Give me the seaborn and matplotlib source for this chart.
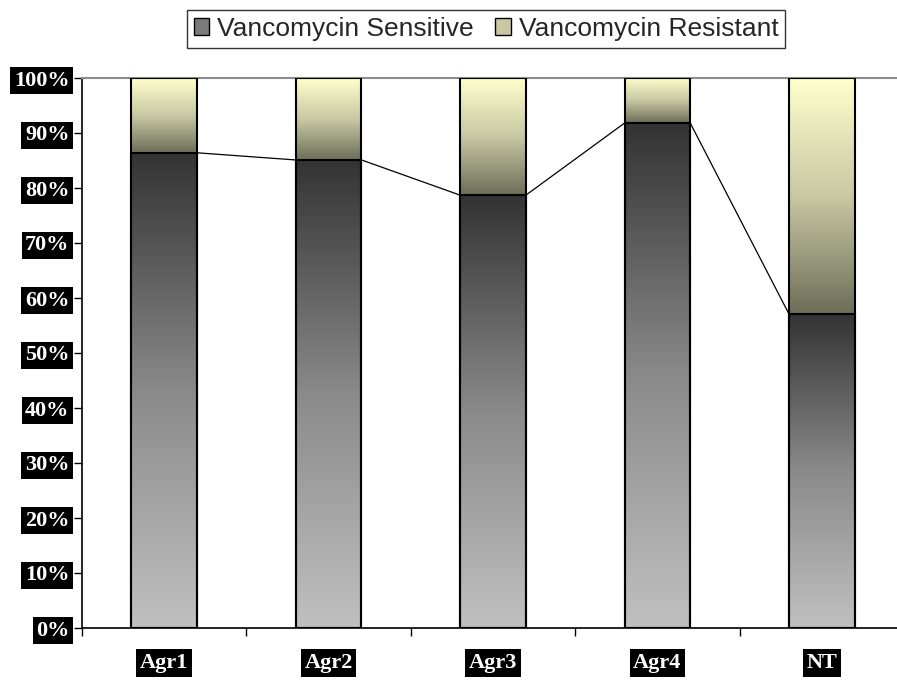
import matplotlib
matplotlib.use("Agg")
import matplotlib.pyplot as plt
from matplotlib.colors import LinearSegmentedColormap
from matplotlib.patches import Patch
import numpy as np
import pandas as pd
import seaborn as sns

groups = ["Agr1", "Agr2", "Agr3", "Agr4", "NT"]
sensitive = [86.4, 85.1, 78.7, 91.8, 57.1]
resistant = [13.6, 14.9, 21.3, 8.2, 42.9]

df = pd.DataFrame({"group": groups, "sens": sensitive,
                   "total": [s + r for s, r in zip(sensitive, resistant)]})

sns.set_style("white")
fig = plt.figure(figsize=(8.97, 6.86), dpi=100)
# plot area runs a few pixels past the right edge, as in the original
ax = fig.add_axes([82 / 897, 58 / 686, 822 / 897, 550 / 686])

bw = 0.4
sns.barplot(data=df, x="group", y="total", ax=ax, width=bw, color="white",
            edgecolor="black", linewidth=1.5)
sns.barplot(data=df, x="group", y="sens", ax=ax, width=bw, color="white",
            edgecolor="black", linewidth=1.5)

sens_cmap = LinearSegmentedColormap.from_list("s", ["#c0c0c0", "#8a8a8a", "#333333"])
res_cmap = LinearSegmentedColormap.from_list("r", ["#6e6e58", "#c8c8a4", "#ffffcc"])
grad = np.linspace(0, 1, 256).reshape(-1, 1)

n = len(groups)
total_patches = ax.patches[:n]
sens_patches = ax.patches[n:2 * n]
for i, (tp, sp) in enumerate(zip(total_patches, sens_patches)):
    x0 = tp.get_x()
    x1 = x0 + tp.get_width()
    im = ax.imshow(grad, extent=[x0, x1, sensitive[i], df["total"][i]], origin="lower",
                   aspect="auto", cmap=res_cmap, zorder=1)
    im.set_clip_path(tp)
    im2 = ax.imshow(grad, extent=[x0, x1, 0, sensitive[i]], origin="lower",
                    aspect="auto", cmap=sens_cmap, zorder=2)
    im2.set_clip_path(sp)
    tp.set_facecolor("none")
    sp.set_facecolor("none")
    tp.set_zorder(3)
    sp.set_zorder(4)

# series lines between bar tops
for i in range(n - 1):
    ax.plot([i + bw / 2, i + 1 - bw / 2], [sensitive[i], sensitive[i + 1]],
            color="black", lw=0.9, zorder=5)

ax.set_xlim(-0.5, 4.5)
ax.set_ylim(0, 100)
ax.set_xlabel("")
ax.set_ylabel("")

ax.set_yticks(np.arange(0, 101, 10))
ax.set_yticklabels([f"{v}%" for v in range(0, 101, 10)])
ax.set_xticks(range(n))
ax.set_xticklabels(groups)
ax.set_xticks(np.arange(-0.5, n, 1), minor=True)
ax.tick_params(axis="x", which="major", length=0, pad=18, bottom=False)
ax.tick_params(axis="x", which="minor", length=6, width=1, direction="out",
               color="black", bottom=True)
ax.tick_params(axis="y", length=6, width=1, direction="out", color="black", pad=3, left=True)

for lab in ax.get_xticklabels() + ax.get_yticklabels():
    lab.set_fontfamily(["Liberation Serif", "DejaVu Serif"])
    lab.set_fontweight("bold")
    lab.set_fontsize(16)
    lab.set_color("white")
    lab.set_bbox(dict(facecolor="black", edgecolor="none", pad=2.5))

for s in ["left", "bottom"]:
    ax.spines[s].set_color("black")
    ax.spines[s].set_linewidth(1.2)
ax.spines["top"].set_color("#8c8c8c")
ax.spines["top"].set_linewidth(1.5)
ax.spines["right"].set_visible(False)

handles = [Patch(facecolor="#7a7a7a", edgecolor="black", label="Vancomycin Sensitive"),
           Patch(facecolor="#c8c8a4", edgecolor="black", label="Vancomycin Resistant")]
leg = fig.legend(handles=handles, loc="center", bbox_to_anchor=(486 / 897, 1 - 29 / 686),
                 ncol=2, frameon=True, fancybox=False, edgecolor="black",
                 prop={"family": ["Liberation Sans Narrow", "Liberation Sans", "DejaVu Sans"], "size": 19},
                 handlelength=0.6, handleheight=0.6, handletextpad=0.3, columnspacing=0.8,
                 borderpad=0.25)
leg.get_frame().set_linewidth(1.0)

fig.savefig("out.png", dpi=100)
